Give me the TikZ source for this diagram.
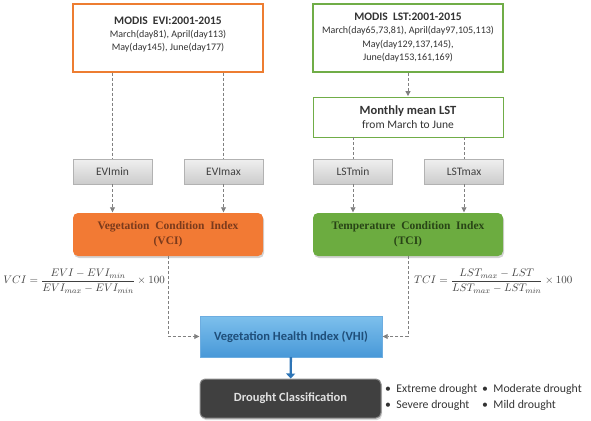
\documentclass[tikz,border=0pt]{standalone}
\usepackage{fontspec}
\setmainfont{Carlito}
\newfontfamily\idxfont{Liberation Serif}
\usetikzlibrary{arrows.meta,shadows}
\definecolor{eviorange}{RGB}{237,125,49}
\definecolor{vcifill}{RGB}{242,122,52}
\definecolor{vcitext}{RGB}{122,58,28}
\definecolor{lstgreen}{RGB}{112,173,71}
\definecolor{tcifill}{RGB}{108,172,64}
\definecolor{tcitext}{RGB}{40,68,22}
\definecolor{vhitop}{RGB}{125,192,236}
\definecolor{vhibottom}{RGB}{72,152,216}
\definecolor{vhitext}{RGB}{31,78,121}
\definecolor{droughtgray}{RGB}{64,64,64}
\definecolor{linegray}{RGB}{128,128,128}
\definecolor{arrowblue}{RGB}{46,117,182}

\begin{document}
\begin{tikzpicture}[x=1pt, y=-1pt,
  srcbox/.style={draw, fill=white, minimum width=190pt, align=center, inner sep=2pt, text=black!80},
  graybox/.style={draw=black!30, top color=black!6, bottom color=black!20, minimum width=79pt, minimum height=25pt, font=\fontsize{11.5}{13}\selectfont, text=black!75},
  idxbox/.style={rounded corners=5pt, minimum width=190pt, minimum height=43pt, align=center, font=\idxfont\bfseries\fontsize{11.5}{15}\selectfont, drop shadow={opacity=0.35, shadow xshift=1pt, shadow yshift=-2pt}},
  link/.style={linegray, line width=0.8pt, dash pattern=on 3pt off 2pt},
  flow/.style={link, -{Triangle[length=5pt, width=5pt]}, shorten >=0.5pt}
]
\useasboundingbox (0,0) rectangle (591,420);

% Input data
\node[srcbox, draw=eviorange, line width=1.3pt, minimum height=68pt, text depth=9pt, font=\fontsize{10}{13}\selectfont] (evi) at (168,38)
  {\fontsize{11.5}{13}\selectfont\bfseries MODIS\ \ EVI:2001-2015\\
   March(day81), April(day113)\\ May(day145), June(day177)};
\node[srcbox, draw=lstgreen, line width=1.6pt, minimum height=68pt, text depth=3pt, font=\fontsize{10}{13.5}\selectfont] (lst) at (408,38)
  {\fontsize{11.5}{13.5}\selectfont\bfseries MODIS\ \ LST:2001-2015\\
   March(day65,73,81), April(day97,105,113)\\ May(day129,137,145),\\ June(day153,161,169)};
\node[srcbox, draw=lstgreen, line width=0.8pt, minimum height=40pt, font=\fontsize{11.5}{14}\selectfont] (monthly) at (408,117)
  {\fontsize{12.5}{14}\selectfont\bfseries Monthly mean LST\\
   from March to June};

% Min / max
\node[graybox] (evimin) at (112.5,171.5) {EVImin};
\node[graybox] (evimax) at (223.5,171.5) {EVImax};
\node[graybox] (lstmin) at (353,171.5) {LSTmin};
\node[graybox] (lstmax) at (464,171.5) {LSTmax};

% Condition indices
\node[idxbox, fill=vcifill, text=vcitext] (vci) at (168,234.5) {Vegetation\ \ Condition\ \ Index\\ (VCI)};
\node[idxbox, fill=tcifill, text=tcitext] (tci) at (408,234.5) {Temperature\ \ Condition\ \ Index\\ (TCI)};

\node[anchor=east, inner sep=0pt, text=black!75, font=\fontsize{11.1}{13}\selectfont] (vcieq) at (165,281)
  {$\displaystyle VCI=\frac{EVI-EVI_{min}}{EVI_{max}-EVI_{min}}\times 100$};
\node[anchor=west, inner sep=0pt, text=black!75, font=\fontsize{11.3}{13}\selectfont] (tcieq) at (414,281)
  {$\displaystyle TCI=\frac{LST_{max}-LST}{LST_{max}-LST_{min}}\times 100$};

% Health index and classes
\node[draw=vhibottom!80, top color=vhitop, bottom color=vhibottom, minimum width=182pt, minimum height=41pt,
  text=vhitext, font=\fontsize{12.5}{14}\selectfont\bfseries] (vhi) at (291,336.5) {Vegetation Health Index (VHI)};
\node[draw=black!45, line width=1pt, fill=droughtgray, rounded corners=5pt, minimum width=181pt, minimum height=39pt,
  text=black!12, font=\fontsize{12.5}{14}\selectfont\bfseries, drop shadow={opacity=0.3, shadow xshift=1pt, shadow yshift=-2pt}] (drought) at (290.5,398.5) {Drought Classification};
\node[anchor=west, inner sep=0pt, text=black!80, font=\fontsize{11.8}{16}\selectfont] (classes) at (385,397)
  {\begin{tabular}{@{}l@{\hspace{5pt}}l@{}}
   \textbullet\ \ Extreme drought & \textbullet\ \ Moderate drought\\
   \textbullet\ \ Severe drought & \textbullet\ \ Mild drought
   \end{tabular}};

% Connecting arrows
\draw[link] (evimin.north |- evi.south) -- (evimin.north);
\draw[link] (evimax.north |- evi.south) -- (evimax.north);
\draw[flow] (lst) -- (monthly);
\draw[link] (lstmin.north |- monthly.south) -- (lstmin.north);
\draw[link] (lstmax.north |- monthly.south) -- (lstmax.north);
\draw[flow] (evimin) -- (evimin |- vci.north);
\draw[flow] (evimax) -- (evimax |- vci.north);
\draw[flow] (lstmin) -- (lstmin |- tci.north);
\draw[flow] (lstmax) -- (lstmax |- tci.north);
\draw[flow] (vci.south) |- (vhi.west);
\draw[flow] (tci.south) |- (vhi.east);
\draw[arrowblue, line width=2.4pt, -{Triangle[length=5pt, width=9pt]}] (vhi) -- (drought);
\end{tikzpicture}
\end{document}
